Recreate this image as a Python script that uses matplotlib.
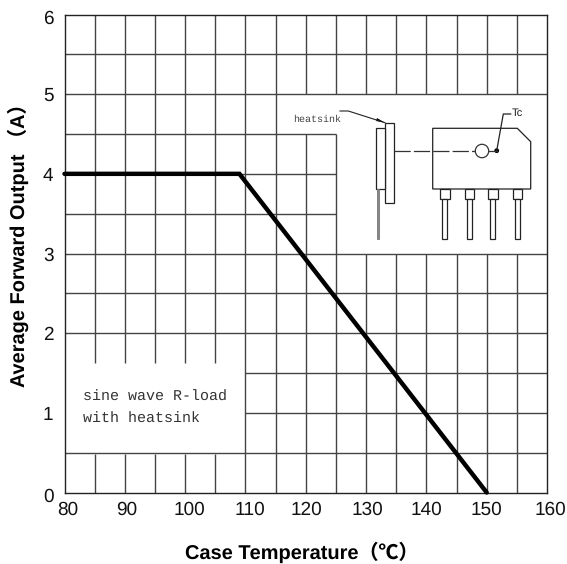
import matplotlib
matplotlib.use("Agg")
import matplotlib.pyplot as plt
from matplotlib.patches import Rectangle, Circle, Polygon
from matplotlib.transforms import ScaledTranslation

plt.rcParams['font.family'] = ['Liberation Sans', 'Noto Sans CJK SC', 'DejaVu Sans']
plt.rcParams['text.hinting'] = 'no_hinting'
plt.rcParams['text.hinting_factor'] = 1

# data
curve_temp = [80, 109, 150]
curve_amps = [4, 4, 0]
x_ticks = [80, 90, 100, 110, 120, 130, 140, 150, 160]
y_ticks = [0, 1, 2, 3, 4, 5, 6]
x_label_shift_px = [3, 2, 4, 4, 1, 1, 0.5, 0, 3]
y_label_shift_px = [-2, 0, 0, 0, 0, 0, -2]
# grid segments left clear round the two inset areas
v_segments = {85: [(0, .48), (1.62, 6)], 90: [(0, .48), (1.62, 6)], 95: [(0, .48), (1.62, 6)],
              100: [(0, .48), (1.62, 6)], 105: [(0, .48), (1.62, 6)], 110: [(0, 6)], 115: [(0, 6)],
              120: [(0, 4.5), (5, 6)], 125: [(0, 4.5), (5, 6)], 130: [(0, 3), (5, 6)],
              135: [(0, 3), (5, 6)], 140: [(0, 3), (5, 6)], 145: [(0, 3), (5, 6)], 150: [(0, 3), (5, 6)],
              155: [(0, 3), (5, 6)]}
h_segments = {5.5: (80, 160), 5: (80, 160), 4.5: (80, 125), 4: (80, 125), 3.5: (80, 125),
              3: (80, 160), 2.5: (80, 160), 2: (80, 160), 1.5: (110, 160), 1: (110, 160), .5: (80, 160)}

W, H = 567, 564
fig = plt.figure(figsize=(W / 100, H / 100), dpi=100, facecolor='white')
L, R, T, B = 64.5, 547, 14.5, 492.5
ax = fig.add_axes([L / W, 1 - B / H, (R - L) / W, (B - T) / H])
ax.set_xlim(80, 160)
ax.set_ylim(0, 6)
grid = dict(color='#444444', lw=1.0, zorder=1)
for x, segs in v_segments.items():
    for a, b in segs:
        ax.plot([x, x], [a, b], solid_capstyle='butt', **grid)
for y, (a, b) in h_segments.items():
    ax.plot([a, b], [y, y], solid_capstyle='butt', **grid)
ax.plot(curve_temp, curve_amps, color='black', lw=3.2, clip_on=False, zorder=3,
        solid_capstyle='round', solid_joinstyle='miter')
for s in ax.spines.values():
    s.set_linewidth(1.0)
    s.set_color('#222222')
ax.set_xticks(x_ticks)
ax.set_yticks(y_ticks)
ax.tick_params(length=0, labelsize=13.8, colors='#111111', pad=6.5)
ax.tick_params(axis='y', pad=8)
for lab, dx in zip(ax.get_xticklabels(), x_label_shift_px):
    lab.set_transform(lab.get_transform() + ScaledTranslation(dx / 100, 0, fig.dpi_scale_trans))
for lab, dy in zip(ax.get_yticklabels(), y_label_shift_px):
    lab.set_transform(lab.get_transform() + ScaledTranslation(0, dy / 100, fig.dpi_scale_trans))

fig.text(18 / W, 1 - 240 / H, 'Average Forward Output （A）', rotation=90, fontsize=14.4,
         fontweight='bold', ha='center', va='center')
fig.text(301.5 / W, 1 - 552 / H, 'Case Temperature（℃）', fontsize=14.4, fontweight='bold',
         ha='center', va='center')

# inset drawing in pixel coordinates
o = fig.add_axes([0, 0, 1, 1], facecolor='none')
o.set_xlim(0, W)
o.set_ylim(H, 0)
o.axis('off')
ink = dict(fc='white', ec='#222222', lw=0.9)
o.add_patch(Rectangle((385, 122.7), 9.3, 80.6, **ink))
o.add_patch(Rectangle((375.7, 128.3), 9.3, 60.7, **ink))
o.add_patch(Rectangle((376.8, 189), 2.6, 50, fc='#888888', ec='#777777', lw=0.6))
o.add_patch(Polygon([(432.7, 128.3), (517.3, 128.3), (530.7, 141.7), (530.7, 189), (432.7, 189)], **ink))
for px in (440, 464.7, 488, 512.7):
    o.add_patch(Rectangle((px, 189), 9.7, 10.3, **ink))
    o.add_patch(Rectangle((px + 2.3, 199.3), 5, 39.7, **ink))
o.plot([394.3, 475], [150.7, 150.7], color='#333333', lw=0.9, dashes=(13, 2.5))
o.add_patch(Circle((482, 151), 6.7, fc='none', ec='#333333', lw=0.9))
o.plot([489, 496.7], [150.7, 150.7], color='#333333', lw=0.9)
o.add_patch(Circle((496.7, 150.7), 2.4, fc='black', ec='none'))
o.plot([496.7, 503.3, 510.7], [150.7, 114, 114], color='#222222', lw=0.9)
o.text(511.5, 113.5, 'Tc', fontsize=8, ha='left', va='center', color='#222222')
o.plot([340, 348.3, 385], [111, 111, 122.7], color='#222222', lw=0.8)
o.add_patch(Polygon([(385, 122.7), (377, 118), (376, 121)], fc='black', ec='none'))
mono = ['Liberation Mono', 'DejaVu Sans Mono']
o.text(292.7, 119.3, 'heatsink', fontsize=7.4, family=mono, ha='left', va='center', color='#444444')
o.text(83, 397, 'sine wave R-load', fontsize=10.8, family=mono, ha='left', va='center', color='#333333')
o.text(83, 419, 'with heatsink', fontsize=10.8, family=mono, ha='left', va='center', color='#333333')

fig.savefig('out.png', dpi=100)
